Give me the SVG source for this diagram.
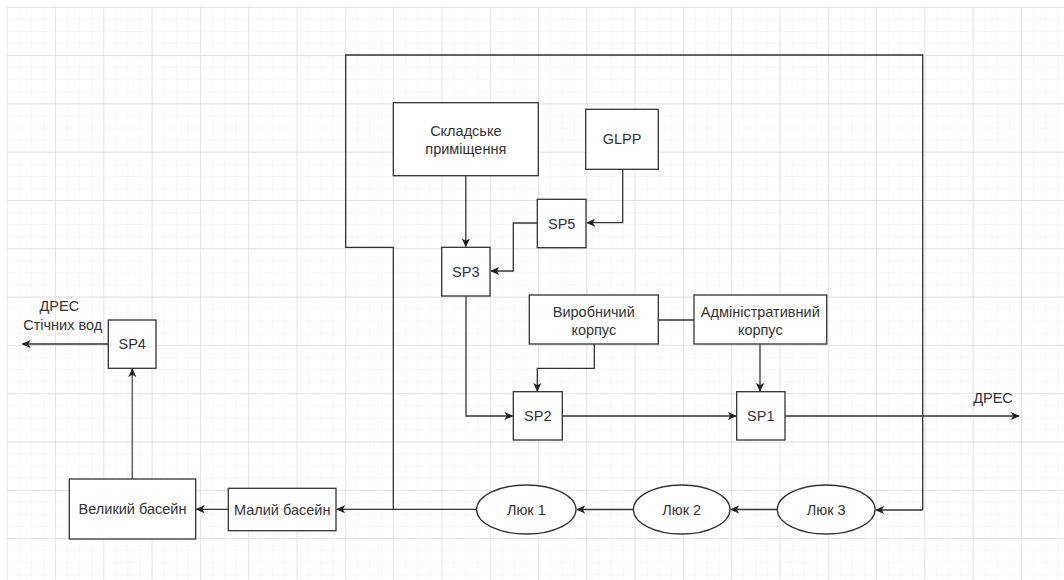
<svg xmlns="http://www.w3.org/2000/svg" width="1064" height="580" viewBox="0 0 1064 580">
<defs>
<pattern id="minor" x="6.7" y="6.8" width="12.075" height="12.075" patternUnits="userSpaceOnUse">
<path d="M0,0 H12.075 M0,0 V12.075" fill="none" stroke="#f2f2f2" stroke-width="1"/>
</pattern>
<pattern id="major" x="6.7" y="6.8" width="48.3" height="48.3" patternUnits="userSpaceOnUse">
<path d="M0,0 H48.3 M0,0 V48.3" fill="none" stroke="#dadada" stroke-width="1.3"/>
</pattern>
<marker id="arr" viewBox="0 0 10 10" refX="9" refY="5" markerWidth="9" markerHeight="9" markerUnits="userSpaceOnUse" orient="auto">
<path d="M0,0.5 L10,5 L0,9.5 L2.5,5 z" fill="#222"/>
</marker>
</defs>
<style>
.box{fill:#fff;stroke:#333;stroke-width:1.3}
.t{font-family:"Liberation Sans",Arial,sans-serif;font-size:14.5px;fill:#333;text-anchor:middle;dominant-baseline:central}
.c{fill:none;stroke:#333;stroke-width:1.3}
.ca{fill:none;stroke:#333;stroke-width:1.3;marker-end:url(#arr)}
.g{fill:none;stroke:#666;stroke-width:1.6;marker-end:url(#arr)}
</style>
<rect width="1064" height="580" fill="#fff"/>
<rect x="6.7" y="6.8" width="1058" height="574" fill="url(#minor)"/>
<rect x="6.7" y="6.8" width="1058" height="574" fill="url(#major)"/>

<g id="connectors">
<path class="c" d="M393.3,509 V247.3 H345.7 V55 H922.7 V510"/>
<path class="ca" d="M922.7,510 H876"/>
<path class="ca" d="M465.8,176 V246.5"/>
<path class="ca" d="M622.7,169.3 V222.7 H587"/>
<path class="ca" d="M537.3,223 H513.3 V271 H491"/>
<path class="ca" d="M466,296 V416 H512.5"/>
<path class="ca" d="M594.3,344 V368.3 H537.3 V391"/>
<path class="c" d="M658.3,320 H694"/>
<path class="ca" d="M760,344 V391"/>
<path class="ca" d="M562.3,416 H736"/>
<path class="ca" d="M785,416 H1019"/>
<path class="ca" d="M777.3,509.5 H731"/>
<path class="ca" d="M633.3,509.5 H577"/>
<path class="ca" d="M476.7,509.3 H337"/>
<path class="ca" d="M228.3,509.3 H196.5"/>
<path class="g" d="M132.3,479 V369"/>
<path class="ca" d="M108.3,344 H22.5"/>
</g>

<g id="skladske"><rect class="box" x="393.3" y="102.7" width="145" height="73"/><text class="t" x="465.8" y="130.7">Складське</text><text class="t" x="465.8" y="149.3">приміщення</text></g>
<g id="glpp"><rect class="box" x="585.7" y="109.3" width="72.6" height="60"/><text class="t" x="622" y="139.3">GLPP</text></g>
<g id="sp5"><rect class="box" x="537.3" y="199.3" width="48.7" height="48.4"/><text class="t" x="561.7" y="223.5">SP5</text></g>
<g id="sp3"><rect class="box" x="441.7" y="247.3" width="48.3" height="48.7"/><text class="t" x="465.8" y="271.7">SP3</text></g>
<g id="vyrobnychyi"><rect class="box" x="529.3" y="295" width="129" height="49"/><text class="t" x="593.8" y="311.7">Виробничий</text><text class="t" x="593.8" y="330">корпус</text></g>
<g id="admin"><rect class="box" x="694" y="295" width="132.7" height="49"/><text class="t" x="760.3" y="311.7">Адміністративний</text><text class="t" x="760.3" y="330">корпус</text></g>
<g id="sp2"><rect class="box" x="513.3" y="391.7" width="49" height="48.3"/><text class="t" x="537.8" y="416">SP2</text></g>
<g id="sp1"><rect class="box" x="736.7" y="391.7" width="48.3" height="48.3"/><text class="t" x="760.8" y="416">SP1</text></g>
<g id="dres-right"><text class="t" x="993" y="398">ДРЕС</text></g>
<g id="sp4"><rect class="box" x="108.3" y="320" width="47.7" height="48.3"/><text class="t" x="132.2" y="344">SP4</text></g>
<g id="dres-left"><text class="t" x="59.3" y="306">ДРЕС</text><text class="t" x="62.7" y="325">Стічних вод</text></g>
<g id="velykyi"><rect class="box" x="69.3" y="479" width="126.4" height="60"/><text class="t" x="132.5" y="509">Великий басейн</text></g>
<g id="malyi"><rect class="box" x="228.3" y="488.3" width="107.7" height="42.4"/><text class="t" x="282.2" y="509.5">Малий басейн</text></g>
<g id="luk1"><ellipse class="box" cx="526.3" cy="509.5" rx="49.7" ry="24.5"/><text class="t" x="526.3" y="509.5">Люк 1</text></g>
<g id="luk2"><ellipse class="box" cx="681.7" cy="509.5" rx="48.3" ry="24.5"/><text class="t" x="681.7" y="509.5">Люк 2</text></g>
<g id="luk3"><ellipse class="box" cx="826.2" cy="509.5" rx="48.9" ry="24.5"/><text class="t" x="826.2" y="509.5">Люк 3</text></g>
</svg>
